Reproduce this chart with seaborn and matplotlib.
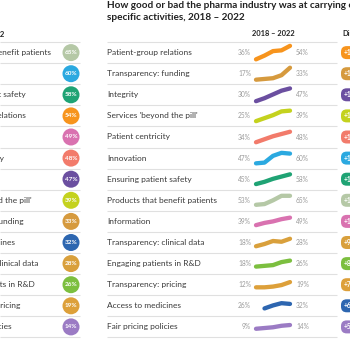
import numpy as np
import pandas as pd
import seaborn as sns
import matplotlib.pyplot as plt

# --- data -------------------------------------------------------------
activities = [
    "Patient-group relations",
    "Transparency: funding",
    "Integrity",
    "Services 'beyond the pill'",
    "Patient centricity",
    "Innovation",
    "Ensuring patient safety",
    "Products that benefit patients",
    "Information",
    "Transparency: clinical data",
    "Engaging patients in R&D",
    "Transparency: pricing",
    "Access to medicines",
    "Fair pricing policies",
]
years = [2018, 2019, 2020, 2021, 2022]
pct_2018 = [36, 17, 30, 25, 34, 47, 45, 53, 39, 18, 18, 12, np.nan, 9]
pct_2019 = [41, 18, 34, 29, 38, 48, 48, 54, 42, 21, 19, 12, 26, 10]
pct_2020 = [47, 19, 39, 33, 42, 57, 52, 59, 44, 25, 20, 13, 30, 11]
pct_2021 = [48, 23, 44, 38, 45, 61, 55, 65, 47, 24, 24, 15, 33, 13]
pct_2022 = [54, 33, 47, 39, 48, 60, 58, 65, 49, 28, 26, 19, 32, 14]
change = [18, 16, 17, 14, 14, 13, 13, 12, 10, 9, 8, 7, 6, 5]
colors = [
    "#F7941D", "#D69A3E", "#6B4FA0", "#C4D21E", "#F27B6B", "#2BA9E0",
    "#1FA374", "#B5C8A6", "#D972B0", "#D9A03C", "#7CBF3F", "#DDA03A",
    "#2D66B0", "#9B7BC4",
]

df = pd.DataFrame({"activity": activities, "color": colors, "change": change,
                   2018: pct_2018, 2019: pct_2019, 2020: pct_2020,
                   2021: pct_2021, 2022: pct_2022})

# --- style ------------------------------------------------------------
sns.set_theme(style="white")
plt.rcParams["font.family"] = ["Lato", "DejaVu Sans"]
TXT = "#3a3a3a"
GREY = "#9b9b9b"
RULE = "#e0e0e0"
FS = 6.05

W = H = 350
fig = plt.figure(figsize=(3.5, 3.5), dpi=100)
ax = fig.add_axes([0, 0, 1, 1])
ax.set_xlim(0, W)
ax.set_ylim(H, 0)
ax.axis("off")

ROW0, STEP = 52.6, 21.1
n = len(df)
row_y = ROW0 + STEP * np.arange(n)
rule_y = row_y - STEP / 2
rule_y = np.append(rule_y, row_y[-1] + STEP / 2)

# --- left panel: 2022 ranking ----------------------------------------
ranked = df.sort_values(2022, ascending=False, kind="stable").reset_index(drop=True)
ranked["y"] = row_y
ranked["x"] = 71
ax.hlines(rule_y, 0, 80, color=RULE, lw=0.8)
ax.text(4.5, 34, "Rated good, 2022", ha="right", va="center",
        fontsize=FS - 0.5, fontweight="bold", color="#222222")
sns.scatterplot(data=ranked, x="x", y="y", hue="activity",
                palette=dict(zip(ranked["activity"], ranked["color"])),
                s=150, linewidth=0, legend=False, ax=ax, zorder=3)
for _, r in ranked.iterrows():
    ax.text(-59, r["y"], r["activity"], ha="left", va="center",
            fontsize=FS, color=TXT)
    ax.text(71, r["y"], f"{r[2022]:.0f}%", ha="center", va="center",
            fontsize=4.6, fontweight="bold", color="white", zorder=4)

# --- right panel: trend 2018-2022 -----------------------------------
ax.text(107, 6, "How good or bad the pharma industry was at carrying out",
        ha="left", va="center", fontsize=7.2, fontweight="bold", color="#222222")
ax.text(107, 17.5, "specific activities, 2018 \u2013 2022",
        ha="left", va="center", fontsize=7.2, fontweight="bold", color="#222222")
ax.text(273, 34, "2018 \u2013 2022", ha="center", va="center",
        fontsize=FS - 0.6, fontweight="bold", color="#222222")
ax.text(342, 34, "Difference", ha="left", va="center",
        fontsize=FS - 0.6, fontweight="bold", color="#222222")
ax.hlines(rule_y, 107, 337, color=RULE, lw=0.8)

PX_PER_PT = 0.75
SPARK_X0, SPARK_W, SPARK_H = 256, 34, 20
for i, r in df.iterrows():
    y = row_y[i]
    vals = r[years].astype(float)
    first = vals.dropna().iloc[0]
    last = vals.iloc[-1]
    ax.text(107, y, r["activity"], ha="left", va="center", fontsize=FS, color=TXT)
    ax.text(251, y, f"{first:.0f}%", ha="right", va="center", fontsize=4.8, color=GREY)
    ax.text(296, y, f"{last:.0f}%", ha="left", va="center", fontsize=4.8, color=GREY)
    ax.text(344, y, f"+{r['change']}", ha="left", va="center", fontsize=4.8,
            fontweight="bold", color="white",
            bbox=dict(boxstyle="round,pad=0.45,rounding_size=0.85",
                      fc=r["color"], ec="none"))

    sub = fig.add_axes([SPARK_X0 / W, (H - y - SPARK_H / 2) / H,
                        SPARK_W / W, SPARK_H / H])
    mid = (vals.min() + vals.max()) / 2
    half = SPARK_H / 2 / PX_PER_PT
    spark = pd.DataFrame({"year": years, "pct": vals.values}).dropna()
    sns.lineplot(data=spark, x="year", y="pct", color=r["color"], lw=3.1,
                 solid_capstyle="round", ax=sub)
    for ln in sub.lines:
        ln.set_clip_on(False)
    sub.set_xlim(2018, 2022)
    sub.set_ylim(mid - half, mid + half)
    sub.axis("off")

fig.savefig("out.png", dpi=100)
